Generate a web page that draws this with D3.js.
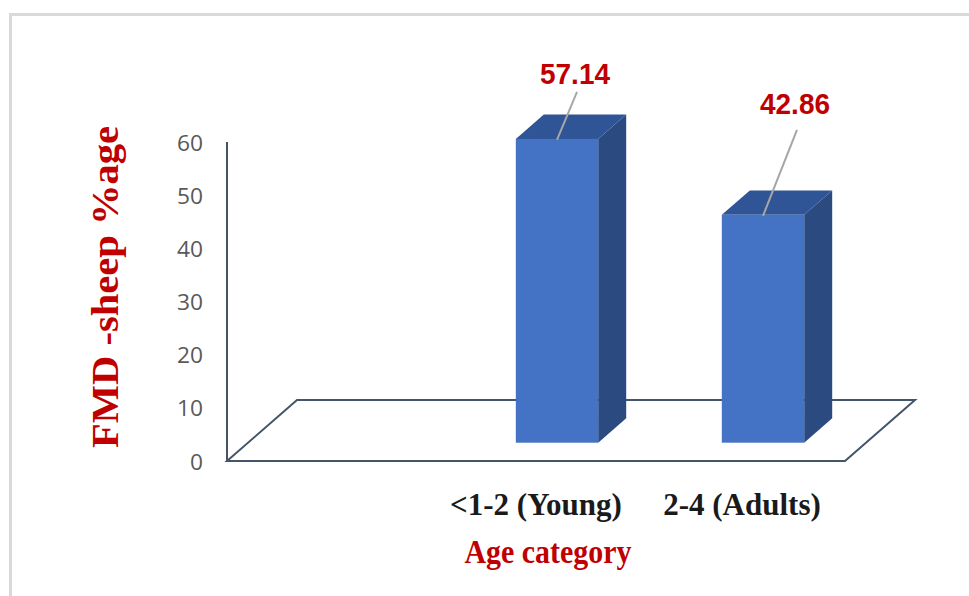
<!DOCTYPE html>
<html>
<head>
<meta charset="utf-8">
<script src="https://cdn.jsdelivr.net/npm/d3@7"></script>
<style>
  html, body { margin: 0; padding: 0; background: #ffffff; }
  svg { display: block; }
</style>
</head>
<body>
<svg id="chart" width="969" height="596"></svg>
<script>
// ---- data ----
const categories = ["", "<1-2 (Young)", "2-4 (Adults)"];
const values = [null, 57.14, 42.86];
const yTicks = [0, 10, 20, 30, 40, 50, 60];
const yTitle = "FMD -sheep %age";
const xTitle = "Age category";

// ---- layout ----
const svg = d3.select("#chart");
const DX = 70, DY = -61;          // 3D depth offset of the floor
const D0 = 0.3, D1 = 0.7;         // bar depth band (fraction of floor depth)

const x = d3.scaleBand().domain(categories).range([227, 845])
  .paddingInner(0.6).paddingOuter(0.3);
const y = d3.scaleLinear().domain([0, 60]).range([461, 142]);

const red = "#C00000";
const axisCol = "#44546A";

// outer frame (partially visible)
svg.append("rect")
  .attr("x", 10.5).attr("y", 14.5).attr("width", 1200).attr("height", 1200)
  .attr("fill", "none").attr("stroke", "#d9d9d9").attr("stroke-width", 3);

// floor outline
const x0 = x.range()[0], x1 = x.range()[1], yb = y(0);
svg.append("path")
  .attr("d", d3.line()([[x0, yb], [x1, yb], [x1 + DX, yb + DY], [x0 + DX, yb + DY]]) + "Z")
  .attr("fill", "none").attr("stroke", axisCol).attr("stroke-width", 2)
  .attr("stroke-linejoin", "miter");

// vertical axis line
svg.append("line")
  .attr("x1", x0).attr("x2", x0).attr("y1", y(0)).attr("y2", y(60))
  .attr("stroke", axisCol).attr("stroke-width", 2);

// y tick labels
svg.append("g").selectAll("text").data(yTicks).join("text")
  .attr("x", 203).attr("y", d => y(d) + 3)
  .attr("text-anchor", "end").attr("dominant-baseline", "middle")
  .attr("font-family", "'Open Sans', 'Liberation Sans', Arial, sans-serif")
  .attr("font-size", 21).attr("fill", "#595959")
  .attr("textLength", 26 ).attr("lengthAdjust", "spacingAndGlyphs")
  .each(function (d) { if (String(d).length < 2) d3.select(this).attr("textLength", 13); })
  .text(d => d);

// bars
const data = categories.map((c, i) => ({ c, v: values[i] })).filter(d => d.v != null);
const bw = x.bandwidth();
const gBars = svg.append("g");
data.forEach(d => {
  const fx = x(d.c) + D0 * DX, fy0 = y(0) + D0 * DY, fyT = y(d.v) + D0 * DY;
  const ddx = (D1 - D0) * DX, ddy = (D1 - D0) * DY;
  gBars.append("path")
    .attr("d", d3.line()([[fx + bw, fyT], [fx + bw + ddx, fyT + ddy], [fx + bw + ddx, fy0 + ddy], [fx + bw, fy0]]) + "Z")
    .attr("fill", "#2B4A80");
  gBars.append("path")
    .attr("d", d3.line()([[fx, fyT], [fx + ddx, fyT + ddy], [fx + bw + ddx, fyT + ddy], [fx + bw, fyT]]) + "Z")
    .attr("fill", "#2F5597");
  gBars.append("rect")
    .attr("x", fx).attr("y", fyT).attr("width", bw).attr("height", fy0 - fyT)
    .attr("fill", "#4472C4");
});

// data labels with leader lines (manual nudges as in the original)
const nudge = [{ dx: 18, dy: -55, ly: 8 }, { dx: 32, dy: -101, ly: 16 }];
data.forEach((d, i) => {
  const cx = x(d.c) + D0 * DX + bw / 2;
  const ty = y(d.v) + D0 * DY;
  const lx = cx + nudge[i].dx, lyB = ty + nudge[i].dy;
  svg.append("line")
    .attr("x1", lx + 2).attr("y1", lyB + nudge[i].ly)
    .attr("x2", cx).attr("y2", ty + 1)
    .attr("stroke", "#A6A6A6").attr("stroke-width", 2);
  svg.append("text")
    .attr("x", lx).attr("y", lyB)
    .attr("text-anchor", "middle")
    .attr("font-family", "'Liberation Sans', Arial, sans-serif")
    .attr("font-weight", "bold").attr("font-size", 30)
    .attr("textLength", 70).attr("lengthAdjust", "spacingAndGlyphs")
    .attr("fill", red)
    .text(d.v.toFixed(2));
});

// x category labels
svg.append("g").selectAll("text").data(categories.filter(c => c !== "")).join("text")
  .attr("x", c => x(c) + bw / 2).attr("y", 515)
  .attr("text-anchor", "middle")
  .attr("font-family", "'Liberation Serif', 'Times New Roman', serif")
  .attr("font-weight", "bold").attr("font-size", 31)
  .attr("fill", "#1a1a1a")
  .text(c => c);

// x title
svg.append("text")
  .attr("x", 548).attr("y", 563)
  .attr("text-anchor", "middle")
  .attr("font-family", "'Liberation Serif', 'Times New Roman', serif")
  .attr("font-weight", "bold").attr("font-size", 34)
  .attr("textLength", 167).attr("lengthAdjust", "spacingAndGlyphs")
  .attr("fill", red)
  .text(xTitle);

// y title
svg.append("text")
  .attr("transform", "translate(118,287) rotate(-90)")
  .attr("text-anchor", "middle")
  .attr("font-family", "'Liberation Serif', 'Times New Roman', serif")
  .attr("font-weight", "bold").attr("font-size", 37)
  .attr("textLength", 322).attr("lengthAdjust", "spacingAndGlyphs")
  .attr("fill", red)
  .text(yTitle);
</script>
</body>
</html>
